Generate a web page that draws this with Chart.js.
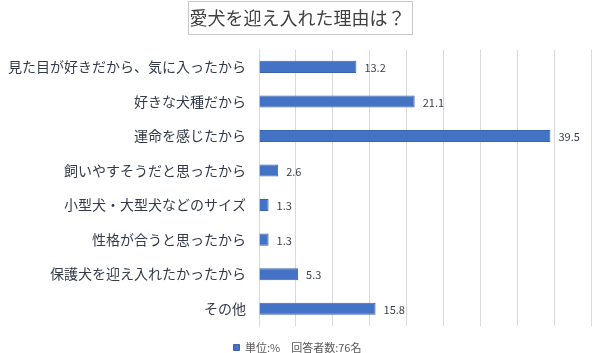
<!DOCTYPE html>
<html>
<head>
<meta charset="utf-8">
<script src="https://cdn.jsdelivr.net/npm/chart.js@4"></script>
<style>
  html, body { margin: 0; padding: 0; background: #fff; }
  #wrap { width: 600px; height: 353px; }
</style>
</head>
<body>
<div id="wrap"><canvas id="myChart"></canvas></div>
<script>
const reasons = [
  '見た目が好きだから、気に入ったから',
  '好きな犬種だから',
  '運命を感じたから',
  '飼いやすそうだと思ったから',
  '小型犬・大型犬などのサイズ',
  '性格が合うと思ったから',
  '保護犬を迎え入れたかったから',
  'その他'
];
const percents = [13.2, 21.1, 39.5, 2.6, 1.3, 1.3, 5.3, 15.8];
const chartTitle = '愛犬を迎え入れた理由は？';
const legendLabel = '単位:%　回答者数:76名';

const JP_FONT = '"Noto Sans CJK JP", "Noto Sans", sans-serif';

// value labels at the end of each bar
const valueLabels = {
  id: 'valueLabels',
  afterDatasetsDraw(chart) {
    const { ctx } = chart;
    const meta = chart.getDatasetMeta(0);
    ctx.save();
    ctx.font = '11px ' + JP_FONT;
    ctx.fillStyle = '#3a3f4a';
    ctx.textAlign = 'left';
    ctx.textBaseline = 'middle';
    meta.data.forEach((bar, i) => {
      ctx.fillText(percents[i].toFixed(1), bar.x + 8, bar.y + 1);
    });
    ctx.restore();
  }
};

// thin box around the title
const titleBox = {
  id: 'titleBox',
  afterDraw(chart) {
    const { ctx } = chart;
    ctx.save();
    ctx.font = '18px ' + JP_FONT;
    const w = ctx.measureText(chartTitle).width;
    const cx = (chart.width) / 2;
    ctx.strokeStyle = '#c8c8c8';
    ctx.lineWidth = 1;
    ctx.strokeRect(Math.round(cx - w / 2 - 4) + 0.5, 1.5, Math.round(w + 8), 33);
    ctx.restore();
  }
};

const ctx = document.getElementById('myChart');
new Chart(ctx, {
  type: 'bar',
  data: {
    labels: reasons,
    datasets: [{
      label: legendLabel,
      data: percents,
      backgroundColor: '#4472C4',
      borderColor: '#3a64ad',
      borderWidth: 1,
      barPercentage: 0.35,
      categoryPercentage: 1.0
    }]
  },
  options: {
    indexAxis: 'y',
    responsive: true,
    maintainAspectRatio: false,
    animation: false,
    layout: { padding: { left: 4, right: 9, top: 0, bottom: -10 } },
    scales: {
      x: {
        min: 0,
        max: 45,
        ticks: { display: false, stepSize: 5 },
        grid: { color: '#d9d9d9', drawTicks: false },
        border: { display: false }
      },
      y: {
        ticks: {
          color: '#333b4a',
          font: { family: JP_FONT, size: 14 },
          padding: 13
        },
        grid: { display: false, drawTicks: false },
        border: { display: true, color: '#d9d9d9' },
        afterFit(scale) { scale.width = 255; }
      }
    },
    plugins: {
      title: {
        display: true,
        text: chartTitle,
        color: '#404040',
        font: { family: JP_FONT, size: 18, weight: 'normal' },
        padding: { top: 7, bottom: 21 }
      },
      legend: {
        position: 'bottom',
        labels: {
          boxWidth: 6,
          boxHeight: 6,
          padding: 16,
          color: '#595959',
          font: { family: JP_FONT, size: 11 }
        }
      },
      tooltip: { enabled: false }
    }
  },
  plugins: [valueLabels, titleBox]
});
</script>
</body>
</html>
